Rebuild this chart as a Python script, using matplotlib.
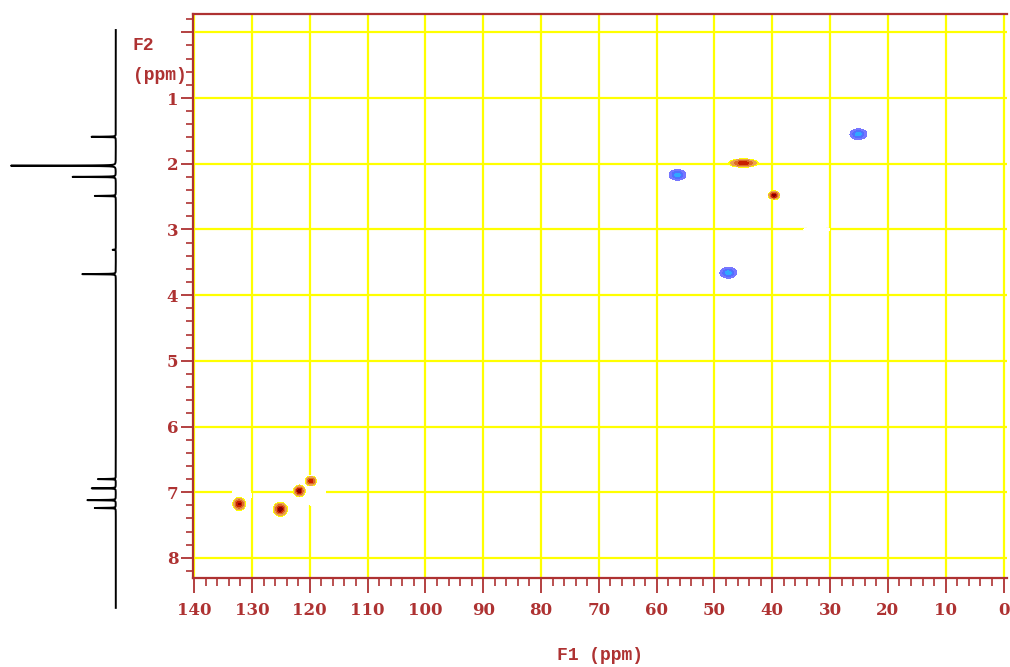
import numpy as np
import matplotlib
matplotlib.use("Agg")
import matplotlib.pyplot as plt

# ---------------- data ----------------
# 1D proton projection (F2): peak positions (ppm) and relative heights
proj_ppm = [1.59, 2.03, 2.20, 2.49, 3.31, 3.68, 6.80, 6.94, 7.12, 7.24]
proj_height = [0.23, 1.00, 0.41, 0.20, 0.03, 0.32, 0.17, 0.23, 0.27, 0.20]

# negative (blue, CH2) cross peaks
neg_f1 = [25.1, 56.4, 47.6]
neg_f2 = [1.55, 2.17, 3.66]
neg_w1 = [0.75, 0.75, 0.75]
neg_w2 = [0.042, 0.042, 0.042]

# positive (red/orange, CH/CH3) cross peaks
pos_f1 = [45.0, 39.7, 132.2, 125.1, 121.8, 119.8]
pos_f2 = [1.99, 2.48, 7.18, 7.26, 6.98, 6.83]
pos_w1 = [1.20, 0.45, 0.50, 0.55, 0.45, 0.45]
pos_w2 = [0.030, 0.030, 0.045, 0.048, 0.040, 0.035]
pos_amp = [0.8, 1.0, 0.9, 1.0, 1.0, 0.8]

# low-level baseline smear (white regions that hide the grid)
smear_f1 = [131.8, 119.4, 32.3]
smear_f2 = [7.05, 6.97, 3.00]
smear_w1 = [1.10, 1.40, 1.45]
smear_w2 = [0.08, 0.15, 0.02]

xticks = list(range(0, 141, 10))
yticks = list(range(0, 9))
ytick_labels = [""] + [str(v) for v in range(1, 9)]

# ---------------- style ----------------
RED = "#ae3232"
YEL = "#ffff00"

fig = plt.figure(figsize=(10.10, 6.67), dpi=100)
W, H = 1010, 667

# main axes in pixel geometry
x0, x1 = 193, 1007
y0, y1 = 14, 578
ax = fig.add_axes([x0 / W, 1 - y1 / H, (x1 - x0) / W, (y1 - y0) / H])
ax.set_xlim(140.2, -0.6)
ax.set_ylim(8.306, -0.279)

ax.set_axisbelow(True)
ax.grid(True, which="major", color=YEL, lw=1.6, zorder=0.5)

# 2D field
g1 = np.linspace(-1, 141, 2200)
g2 = np.linspace(-0.4, 8.5, 1800)
X, Y = np.meshgrid(g1, g2)

def field(c1, c2, w1, w2, amp=None):
    Z = np.zeros_like(X)
    for i in range(len(c1)):
        a = 1.0 if amp is None else amp[i]
        gx = np.exp(-0.5 * ((g1 - c1[i]) / w1[i]) ** 2)
        gy = np.exp(-0.5 * ((g2 - c2[i]) / w2[i]) ** 2)
        Z += a * np.outer(gy, gx)
    return Z

S = field(smear_f1, smear_f2, smear_w1, smear_w2)
ax.contourf(X, Y, S, levels=[0.3, 10], colors=["white"], zorder=1)

P = field(pos_f1, pos_f2, pos_w1, pos_w2, pos_amp)
ax.contourf(X, Y, P, levels=[0.08, 0.15, 0.35, 0.6, 0.85, 10],
            colors=[YEL, "#eba050", "#dc6a25", "#c82000", "#8a0000"], zorder=2)

N = field(neg_f1, neg_f2, neg_w1, neg_w2)
ax.contourf(X, Y, N, levels=[0.15, 0.45, 0.8, 10],
            colors=["#7676ff", "#5070ff", "#30a8ff"], zorder=2)

# ticks / spines
ax.set_xticks(xticks)
ax.set_xticks(np.arange(0, 141, 2), minor=True)
ax.set_yticks(yticks)
ax.set_yticklabels(ytick_labels)
ax.set_yticks(np.arange(-0.2, 8.3, 0.2), minor=True)
ax.tick_params(axis="x", which="major", direction="out", length=11, width=1.3,
               color=RED, labelcolor=RED, pad=6, top=False)
ax.tick_params(axis="x", which="minor", direction="out", length=5.8, width=1.2,
               color=RED, top=False)
ax.tick_params(axis="y", which="major", direction="out", length=8.6, width=1.3,
               color=RED, labelcolor=RED, pad=2, right=False)
ax.tick_params(axis="y", which="minor", direction="out", length=5, width=1.2,
               color=RED, right=False)
for lab in ax.get_xticklabels() + ax.get_yticklabels():
    lab.set_fontfamily("DejaVu Serif")
    lab.set_fontweight("bold")
    lab.set_fontsize(12)
for side in ["left", "top", "bottom"]:
    ax.spines[side].set_color(RED)
    ax.spines[side].set_linewidth(1.6)
ax.spines["right"].set_visible(False)

fig.text(600 / W, 1 - 655 / H, "F1 (ppm)", color=RED, family="Liberation Mono",
         weight="bold", fontsize=13, ha="center", va="center")
fig.text(133 / W, 1 - 45 / H, "F2", color=RED, family="Liberation Mono",
         weight="bold", fontsize=13, ha="left", va="center")
fig.text(133 / W, 1 - 75 / H, "(ppm)", color=RED, family="Liberation Mono",
         weight="bold", fontsize=13, ha="left", va="center")

# projection axes (left)
py0, py1 = 14, 612
axp = fig.add_axes([0, 1 - py1 / H, 120 / W, (py1 - py0) / H])
axp.set_ylim(-0.279 + (py1 - py0) / 65.7, -0.279)
axp.set_xlim(1.1, -0.04)
axp.axis("off")
s = np.linspace(-0.035, 8.76, 20000)
spec = np.zeros_like(s)
hw = 0.0025
for p, h in zip(proj_ppm, proj_height):
    spec += h * hw ** 2 / ((s - p) ** 2 + hw ** 2)
axp.plot(spec, s, color="black", lw=1.4)

fig.savefig("out.png", dpi=100)
